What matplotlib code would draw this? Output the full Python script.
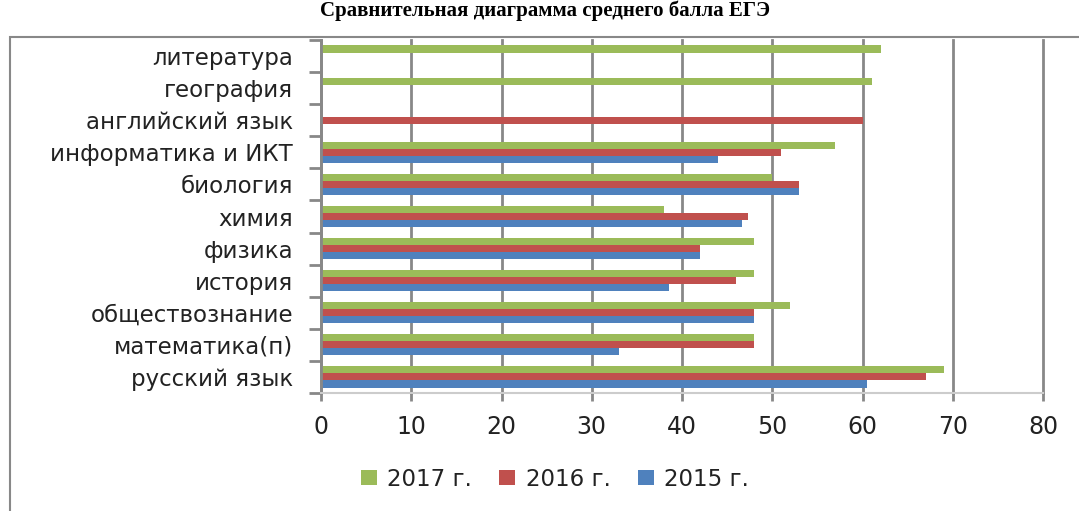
import numpy as np
import matplotlib.pyplot as plt
from matplotlib.patches import Rectangle

subjects = ['русский язык', 'математика(п)', 'обществознание', 'история', 'физика',
            'химия', 'биология', 'информатика и ИКТ', 'английский язык', 'география',
            'литература']
y2015 = [60.5, 33, 48, 38.6, 42, 46.7, 53, 44, 0, 0, 0]
y2016 = [67, 48, 48, 46, 42, 47.3, 53, 51, 60, 0, 0]
y2017 = [69, 48, 52, 48, 48, 38, 50, 57, 0, 61, 62]
xticks = [0, 10, 20, 30, 40, 50, 60, 70, 80]

fig = plt.figure(figsize=(10.79, 5.11), dpi=100)
ax = fig.add_axes([321/1079, 1 - 393/511, (1043 - 321)/1079, (393 - 40)/511])

y = np.arange(len(subjects))
h = 0.22
b15 = ax.barh(y - h, y2015, height=h, color='#4F81BD', label='2015 г.')
b16 = ax.barh(y, y2016, height=h, color='#C0504D', label='2016 г.')
b17 = ax.barh(y + h, y2017, height=h, color='#9BBB59', label='2017 г.')

ax.set_xlim(0, 80)
ax.set_ylim(-0.5, len(subjects) - 0.5)
ax.set_xticks(xticks)
ax.set_yticks(y)
ax.set_yticklabels(subjects, fontsize=16.5, color='#222222')
ax.set_yticks(np.arange(-0.5, len(subjects), 1), minor=True)
ax.tick_params(axis='y', which='major', length=0, pad=20)
ax.tick_params(axis='y', which='minor', length=9, width=2, color='#888888')
ax.tick_params(axis='x', length=6, width=2, color='#888888', labelsize=17,
               labelcolor='#222222', pad=10)
ax.grid(axis='x', color='#888888', linewidth=2)
for ln in ax.get_xgridlines():
    ln.set_clip_on(False)
ax.set_axisbelow(True)
for s in ['top', 'right']:
    ax.spines[s].set_visible(False)
ax.spines['left'].set_color('#888888')
ax.spines['left'].set_linewidth(2)
ax.spines['bottom'].set_color('#cccccc')
ax.spines['bottom'].set_linewidth(1.5)

fig.legend(handles=[b17, b16, b15], loc='center', bbox_to_anchor=(555/1079, 1 - 479/511),
           ncol=3, frameon=False, fontsize=16.5, handlelength=0.7, handleheight=0.6,
           columnspacing=1.2, handletextpad=0.45, labelcolor='#222222')

fig.patches.append(Rectangle((10/1079, -0.05), 1.0, 1 - 37/511 + 0.05,
                             transform=fig.transFigure, fill=False,
                             edgecolor='#888888', linewidth=1.5))
fig.text(0.505, 0.999, 'Сравнительная диаграмма среднего балла ЕГЭ',
         ha='center', va='top', fontsize=15, fontweight='bold',
         family='Liberation Serif')

fig.savefig('out.png', dpi=100)
